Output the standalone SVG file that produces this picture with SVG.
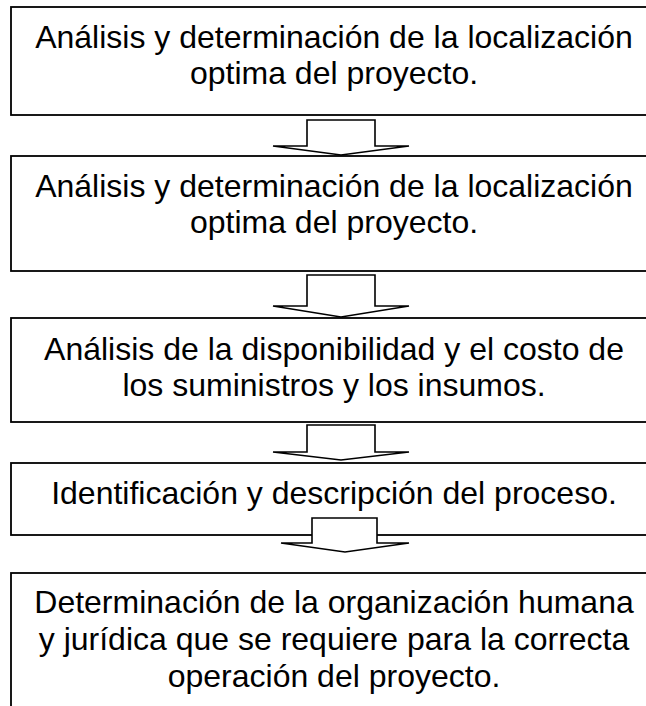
<svg xmlns="http://www.w3.org/2000/svg" width="646" height="706" viewBox="0 0 646 706">
<style>
.box{fill:#fff;stroke:#000;stroke-width:1.8}
.arr{fill:#fff;stroke:#000;stroke-width:1.6;stroke-linejoin:miter}
text{font-family:"Liberation Sans",Arial,sans-serif;font-size:32px;fill:#000;text-anchor:middle}
</style>
<rect width="646" height="706" fill="#fff"/>
<g id="n1"><rect class="box" x="11" y="7" width="650" height="108"/>
<text x="334" y="48">Análisis y determinación de la localización</text>
<text x="334" y="84">optima del proyecto.</text></g>
<g id="n2"><rect class="box" x="11" y="156" width="650" height="115"/>
<text x="334" y="197">Análisis y determinación de la localización</text>
<text x="334" y="233">optima del proyecto.</text></g>
<g id="n3"><rect class="box" x="11" y="318" width="650" height="104"/>
<text x="334" y="360">Análisis de la disponibilidad y el costo de</text>
<text x="334" y="396">los suministros y los insumos.</text></g>
<g id="n4"><rect class="box" x="11" y="463" width="650" height="72"/>
<text x="334" y="504">Identificación y descripción del proceso.</text></g>
<g id="n5"><rect class="box" x="11" y="573" width="650" height="160"/>
<text x="334" y="613">Determinación de la organización humana</text>
<text x="334" y="650">y jurídica que se requiere para la correcta</text>
<text x="334" y="687">operación del proyecto.</text></g>
<g id="connectors">
<path class="arr" d="M307,120 H375 V146 H409 L341,155 L273,146 H307 Z"/>
<path class="arr" d="M307,275 H375 V306 H409 L341,317 L273,306 H307 Z"/>
<path class="arr" d="M307,425 H375 V452 H409 L341,460 L273,452 H307 Z"/>
<path class="arr" d="M312,518 H377 V543 H409 L345,552 L281,543 H312 Z"/>
</g>
</svg>
